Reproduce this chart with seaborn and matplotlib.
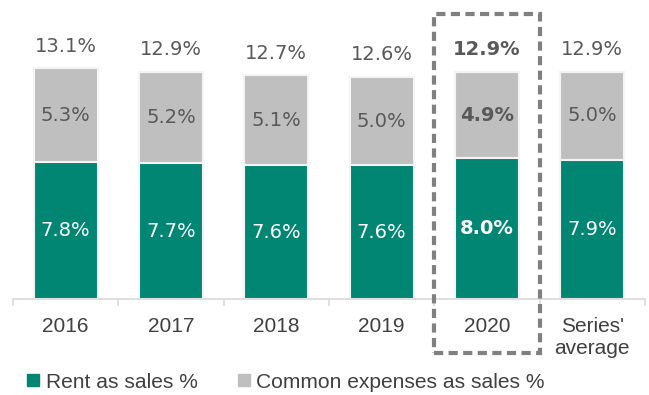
import matplotlib
matplotlib.use("Agg")
import matplotlib.pyplot as plt
from matplotlib.patches import Rectangle
from matplotlib.lines import Line2D
import seaborn as sns
import pandas as pd

categories = ["2016", "2017", "2018", "2019", "2020", "Series'\naverage"]
rent = [7.8, 7.7, 7.6, 7.6, 8.0, 7.9]
common = [5.3, 5.2, 5.1, 5.0, 4.9, 5.0]
totals = [13.1, 12.9, 12.7, 12.6, 12.9, 12.9]
highlight = "2020"

GREEN = "#008673"
GREY = "#BFBFBF"
LABEL_DARK = "#595959"

sns.set_theme(style="white")
plt.rcParams["font.family"] = ["Liberation Sans", "DejaVu Sans"]

df = pd.DataFrame({"year": categories, "rent": rent, "common": common, "total": totals})

fig = plt.figure(figsize=(6.49, 3.95), dpi=100)
ax = fig.add_axes([13 / 649, 96 / 395, 632 / 649, 294 / 395])

# stacked bars: full total in grey, rent share in green over it
sns.barplot(data=df, x="year", y="total", color=GREY, width=0.61,
            edgecolor="#F4F4F4", linewidth=1.5, saturation=1, ax=ax)
sns.barplot(data=df, x="year", y="rent", color=GREEN, width=0.61,
            edgecolor="#F4F4F4", linewidth=1.5, saturation=1, ax=ax)

ax.set_xlim(-0.5, 5.5)
ax.set_ylim(0, 16.7)
ax.set_xlabel("")
ax.set_ylabel("")
ax.set_yticks([])

for s in ["left", "right", "top"]:
    ax.spines[s].set_visible(False)
ax.spines["bottom"].set_color("#D9D9D9")
ax.spines["bottom"].set_linewidth(1.2)

ax.set_xticks(range(len(categories)))
ax.set_xticklabels(categories, fontsize=15, color="#404040", linespacing=1.2)
ax.tick_params(axis="x", which="major", length=0, pad=13)
ax.set_xticks([i - 0.5 for i in range(len(categories) + 1)], minor=True)
ax.tick_params(axis="x", which="minor", length=5, width=1.2, color="#D9D9D9", bottom=True)

label_font = ["DejaVu Sans"]
for i, cat in enumerate(categories):
    bold = "bold" if cat == highlight else "normal"
    ax.text(i, rent[i] / 2, f"{rent[i]:.1f}%", ha="center", va="center",
            fontsize=14, color="white", family=label_font, fontweight=bold)
    ax.text(i, rent[i] + common[i] / 2, f"{common[i]:.1f}%", ha="center", va="center",
            fontsize=14, color=LABEL_DARK, family=label_font, fontweight=bold)
    ax.annotate(f"{totals[i]:.1f}%", (i, totals[i]), xytext=(0, 16),
                textcoords="offset points", ha="center", va="center",
                fontsize=14, color=LABEL_DARK, family=label_font, fontweight=bold)

# dashed frame around the highlighted year
hi = categories.index(highlight)
frame = Rectangle((hi - 0.5, -3.05), 1.0, 19.25, fill=False, edgecolor="#808080",
                  linewidth=3, linestyle=(0, (2.2, 1.3)), clip_on=False, zorder=5)
ax.add_patch(frame)

handles = [
    Line2D([], [], marker="s", linestyle="none", markersize=8, color=GREEN),
    Line2D([], [], marker="s", linestyle="none", markersize=8, color=GREY),
]
fig.legend(handles, ["Rent as sales %", "Common expenses as sales %"],
           loc="center left", bbox_to_anchor=(27 / 649, 1 - 382 / 395), ncol=2,
           frameon=False, fontsize=15.1, handlelength=0.6, handletextpad=0.3,
           columnspacing=1.9, borderpad=0, borderaxespad=0, labelcolor="#404040")

fig.savefig("out.png", dpi=100)
